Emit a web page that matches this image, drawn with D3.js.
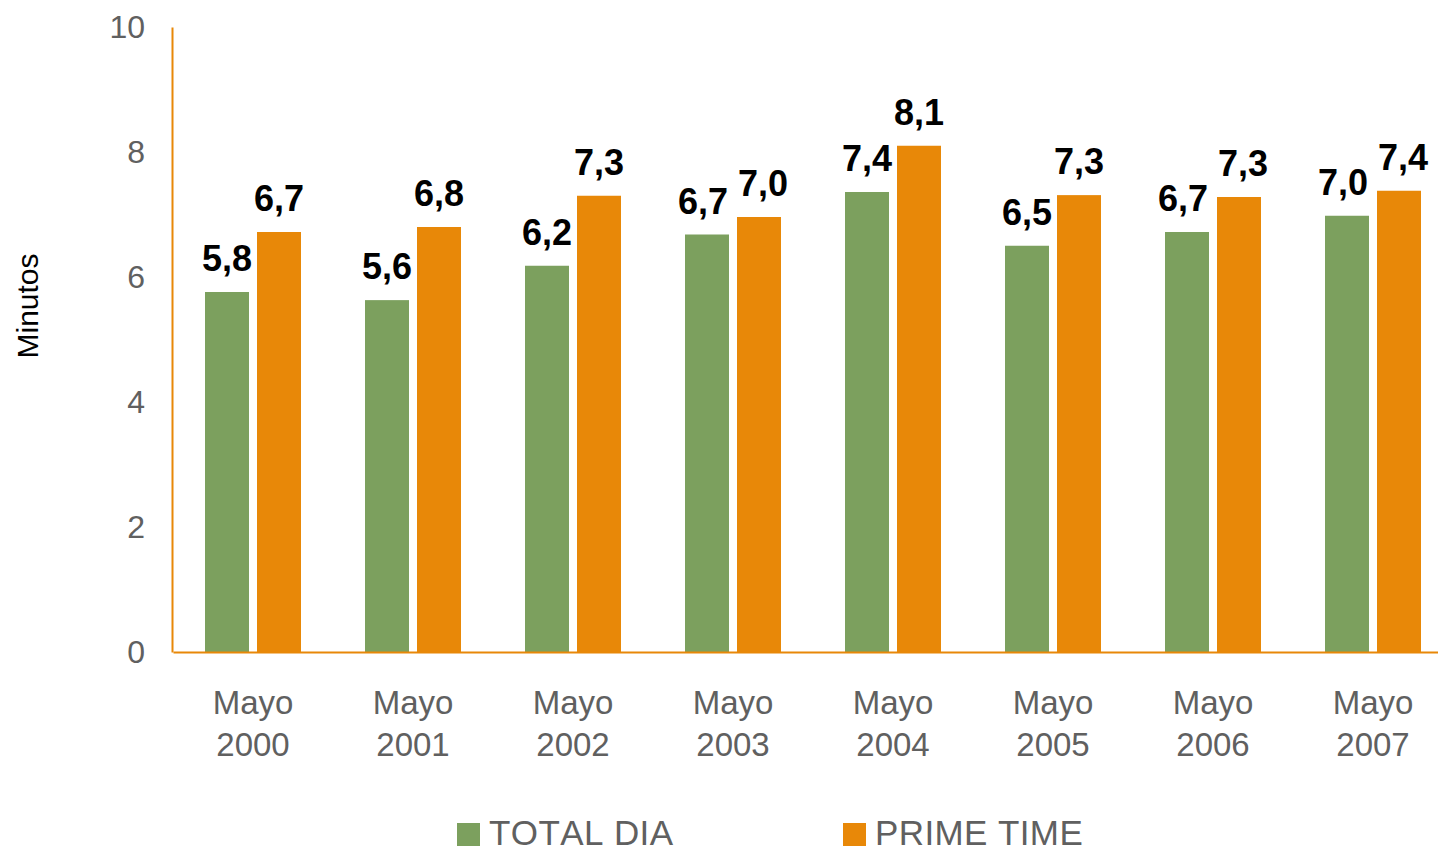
<!DOCTYPE html>
<html>
<head>
<meta charset="utf-8">
<script src="https://cdn.jsdelivr.net/npm/d3@7"></script>
<style>
  body { margin: 0; background: #fff; }
  text { font-family: Arial, "Liberation Sans", sans-serif; font-kerning: none; }
</style>
</head>
<body>
<div id="chart"></div>
<script>
// chart data
var categories = ["Mayo 2000", "Mayo 2001", "Mayo 2002", "Mayo 2003", "Mayo 2004", "Mayo 2005", "Mayo 2006", "Mayo 2007"];
var totalDia = [5.76, 5.63, 6.18, 6.68, 7.36, 6.5, 6.72, 6.98];
var primeTime = [6.72, 6.8, 7.3, 6.96, 8.1, 7.31, 7.28, 7.38];
var seriesNames = ["TOTAL DIA", "PRIME TIME"];
var yTicks = [0, 2, 4, 6, 8, 10];

var green = "#7ca05e", orange = "#e88808", grey = "#606060";

var width = 1438, height = 852;
var svg = d3.select("#chart").append("svg")
    .attr("width", width)
    .attr("height", height);

// scales
var x = d3.scaleBand().domain(categories).range([173, 1453]);
var y = d3.scaleLinear().domain([0, 10]).range([652, 27]);
var sub = d3.scaleOrdinal().domain(seriesNames).range([-48, 4]);
var barW = 44;

var rows = categories.map((c, i) => ({cat: c, vals: [
  {name: seriesNames[0], v: totalDia[i], color: green},
  {name: seriesNames[1], v: primeTime[i], color: orange}
]}));

// y axis
var yAxis = svg.append("g")
    .attr("transform", "translate(172,0)")
    .call(d3.axisLeft(y).tickValues(yTicks).tickSize(0).tickPadding(27));
yAxis.select(".domain").attr("stroke", orange).attr("stroke-width", 2);
yAxis.selectAll("text").attr("fill", grey).style("font-size", "32px");

// bars
var groups = svg.selectAll(".grp").data(rows).enter().append("g")
    .attr("transform", d => "translate(" + (x(d.cat) + x.bandwidth() / 2) + ",0)");

groups.selectAll("rect").data(d => d.vals).enter().append("rect")
    .attr("x", d => sub(d.name))
    .attr("y", d => y(d.v))
    .attr("width", barW)
    .attr("height", d => y(0) - y(d.v))
    .attr("fill", d => d.color);

groups.selectAll(".lbl").data(d => d.vals).enter().append("text")
    .attr("class", "lbl")
    .attr("x", d => sub(d.name) + barW / 2)
    .attr("y", d => y(d.v) - 21)
    .attr("text-anchor", "middle")
    .style("font-size", "36px")
    .style("font-weight", "bold")
    .attr("fill", "#000")
    .text(d => d3.format(".1f")(d.v).replace(".", ","));

// push the two labels of a group apart when they crowd each other
groups.each(function() {
  var lbls = d3.select(this).selectAll(".lbl").nodes();
  var a = lbls[0].getBBox(), b = lbls[1].getBBox();
  var gap = b.x - (a.x + a.width);
  var vOverlap = a.y < b.y + b.height && b.y < a.y + a.height;
  if (vOverlap && gap < 10) {
    var d = (10 - gap) / 2;
    d3.select(lbls[0]).attr("x", +d3.select(lbls[0]).attr("x") - d);
    d3.select(lbls[1]).attr("x", +d3.select(lbls[1]).attr("x") + d);
  }
});

// x axis
var xAxis = svg.append("g")
    .attr("transform", "translate(0,652)")
    .call(d3.axisBottom(x).tickSize(0).tickFormat(""));
xAxis.select(".domain").attr("stroke", orange).attr("stroke-width", 2);

xAxis.selectAll(".tick").each(function(d) {
  var parts = d.split(" ");
  var t = d3.select(this).append("text")
      .attr("text-anchor", "middle")
      .attr("fill", grey)
      .style("font-size", "33px");
  t.append("tspan").attr("x", 0).attr("y", 62).text(parts[0]);
  t.append("tspan").attr("x", 0).attr("y", 104).text(parts[1]);
});

// y axis title
svg.append("text")
    .attr("transform", "translate(38,306) rotate(-90)")
    .attr("text-anchor", "middle")
    .style("font-size", "30px")
    .attr("fill", "#000")
    .text("Minutos");

// legend
var legendX = [457, 843];
var legend = svg.selectAll(".leg").data(seriesNames).enter().append("g")
    .attr("transform", (d, i) => "translate(" + legendX[i] + ",0)");
legend.append("rect")
    .attr("x", 0).attr("y", 823)
    .attr("width", 23).attr("height", 23)
    .attr("fill", (d, i) => i === 0 ? green : orange);
legend.append("text")
    .attr("x", 32).attr("y", 845)
    .attr("fill", grey)
    .style("font-size", "35px")
    .style("letter-spacing", "0.4px")
    .text(d => d);
</script>
</body>
</html>
